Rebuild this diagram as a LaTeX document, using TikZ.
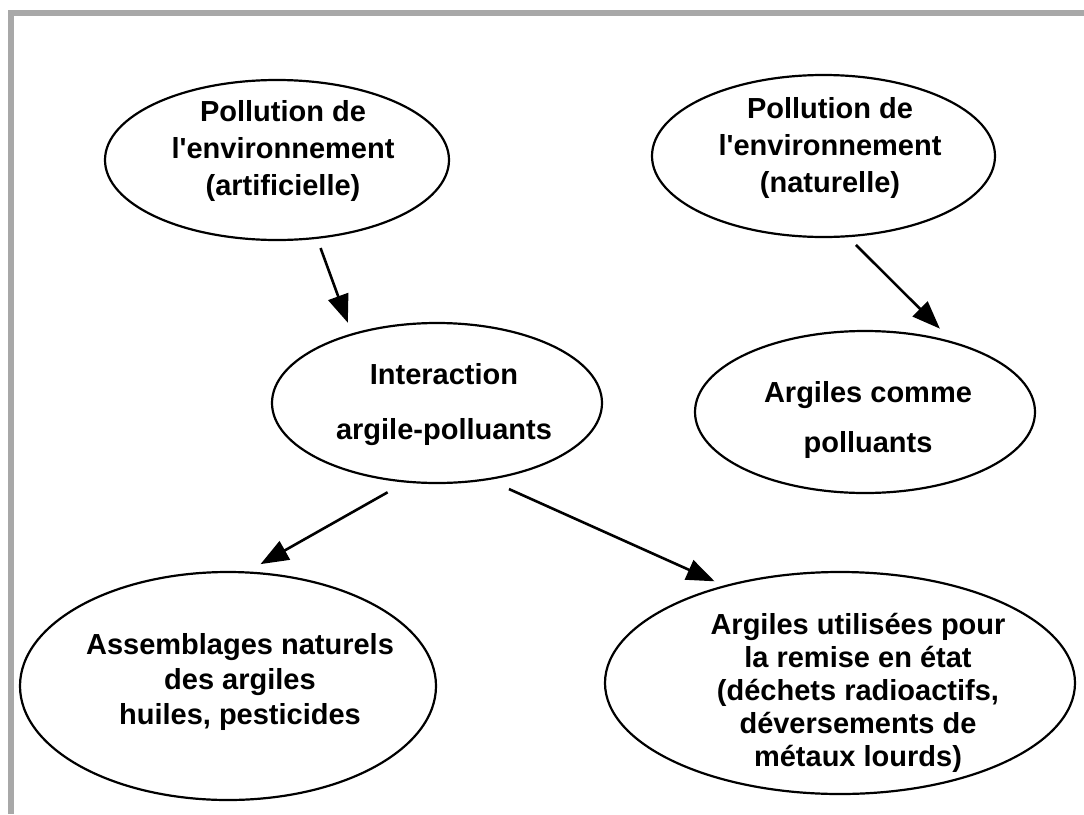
\documentclass[tikz,border=0pt]{standalone}
\usepackage{fontspec}
\setmainfont{Liberation Sans}[Ligatures=TeXOff]
\usetikzlibrary{shapes.geometric,arrows.meta}
\definecolor{framegray}{HTML}{A8A8A8}
\begin{document}
\begin{tikzpicture}[x=1pt,y=1pt,
  bubble/.style={draw=black, line width=2.2pt, ellipse, inner sep=0pt},
  txt/.style={font=\fontsize{29}{#1}\selectfont\bfseries, align=center, anchor=north, inner sep=0pt},
  arr/.style={line width=2.6pt, -{Triangle[length=28pt,width=21pt]}}]
\useasboundingbox (0,0) rectangle (1084,-814);
% page frame: grey rule along the top and the left side
\fill[framegray] (8,-10) rectangle (1084,-16);
\fill[framegray] (8,-10) rectangle (14,-814);

% ellipses
\node[bubble, minimum width=344, minimum height=160] (e1) at (277,-160) {};
\node[bubble, minimum width=343, minimum height=162] (e2) at (823.5,-156) {};
\node[bubble, minimum width=330, minimum height=160] (e3) at (437,-403) {};
\node[bubble, minimum width=340, minimum height=162] (e4) at (865,-412) {};
\node[bubble, minimum width=416, minimum height=228] (e5) at (228,-686) {};
\node[bubble, minimum width=470, minimum height=222] (e6) at (840,-683) {};

% labels
\node[txt=37] (t1) at (283,-100) {Pollution de\\l'environnement\\(artificielle)};
\node[txt=37] (t2) at (830,-97) {Pollution de\\l'environnement\\(naturelle)};
\node[txt=55] (t3) at (444,-363) {Interaction\\argile-polluants};
\node[txt=50] (t4) at (868,-381) {Argiles comme\\polluants};
\node[txt=35] (t5) at (240,-633) {Assemblages naturels\\des argiles\\huiles, pesticides};
\node[txt=33] (t6) at (858,-613) {Argiles utilisées pour\\la remise en état\\(déchets radioactifs,\\déversements de\\métaux lourds)};

% connectors
\draw[arr] ([shift={(5,-9)}]e1.-64) -- ([shift={(-10,9)}]e3.138);
\draw[arr] ([shift={(3,-8)}]e2.-70.3) -- ([shift={(7,8)}]e4.48.7);
\draw[arr] ([shift={(-6,-11)}]e3.-119.6) -- ([shift={(2,8)}]e5.75.2);
\draw[arr] ([shift={(9,-11)}]e3.-50.5) -- ([shift={(-6,5)}]e6.141.6);
\end{tikzpicture}
\end{document}
